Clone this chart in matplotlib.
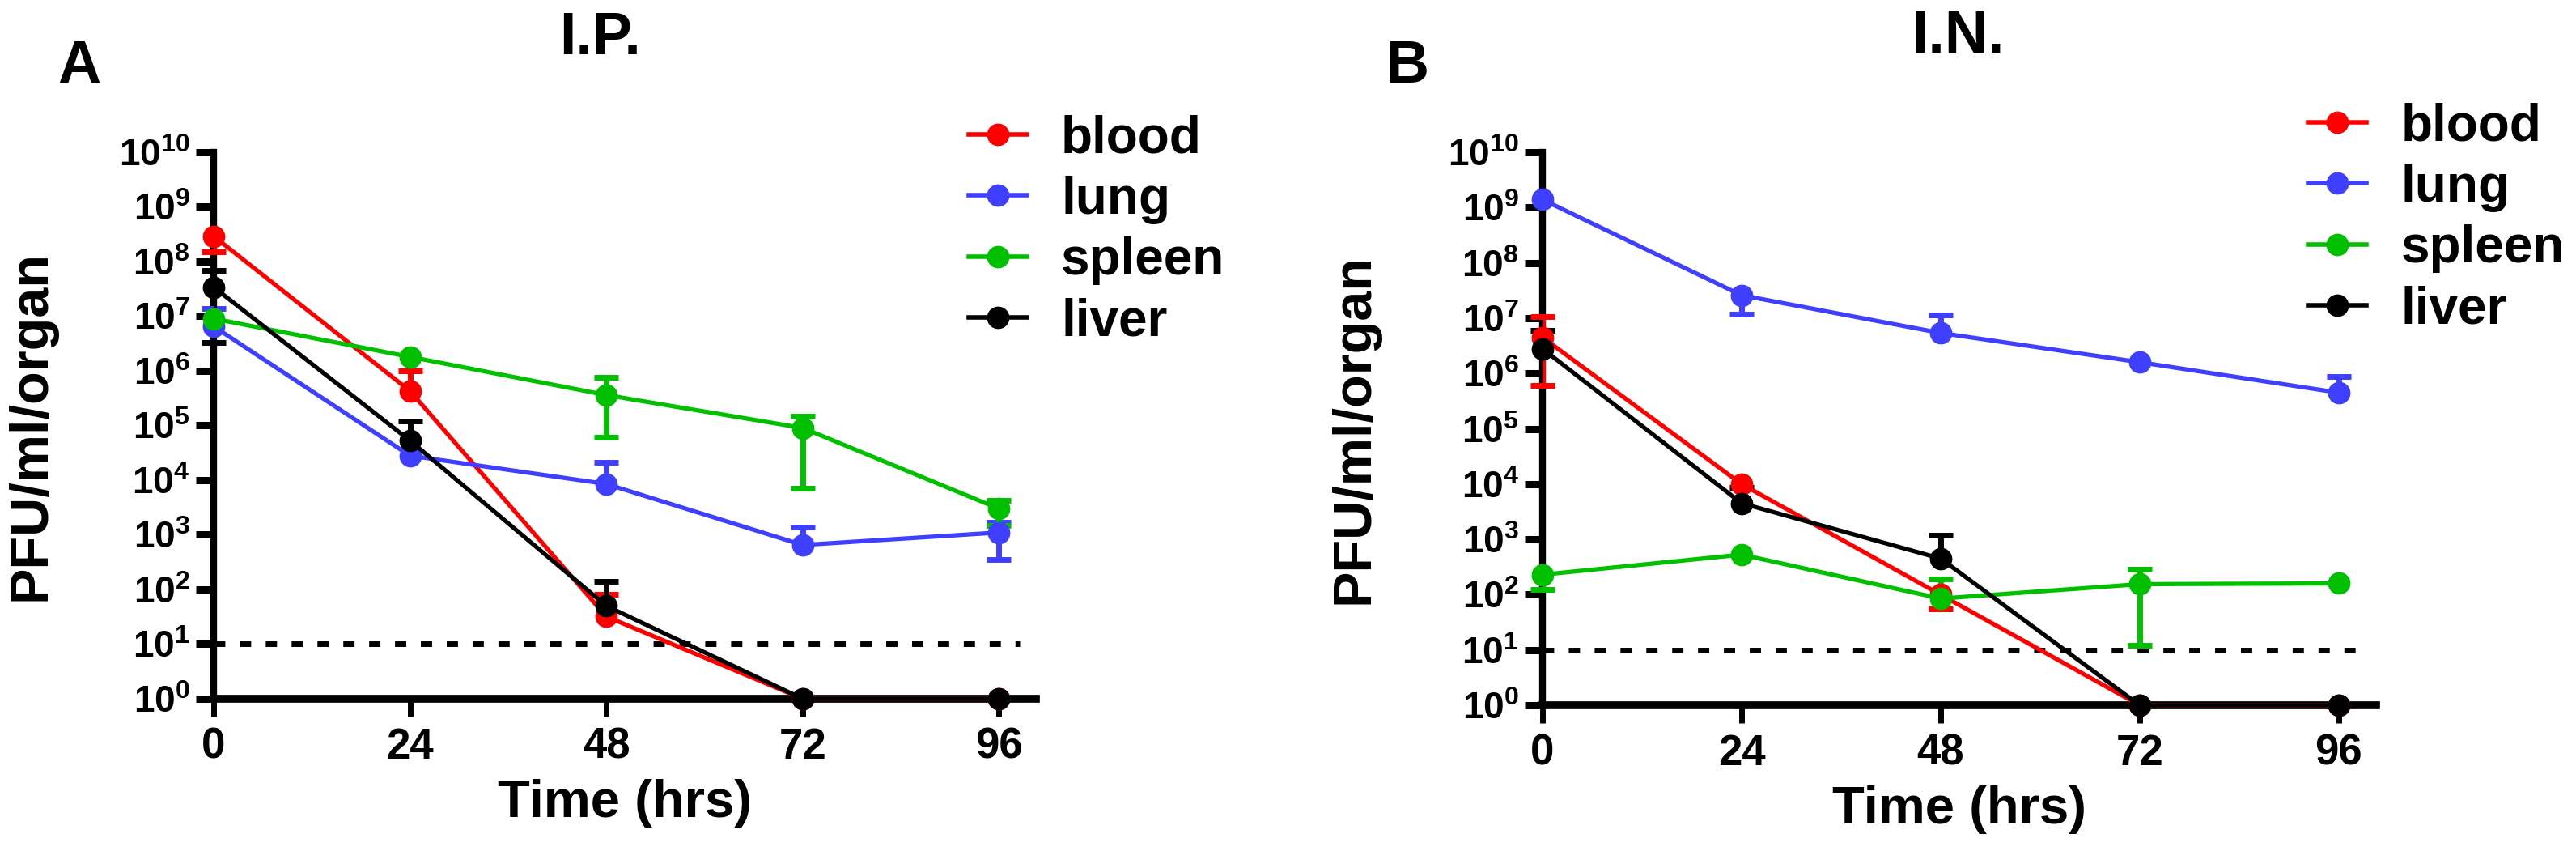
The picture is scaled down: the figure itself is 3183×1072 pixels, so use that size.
import numpy as np
import matplotlib
matplotlib.use("Agg")
import matplotlib.pyplot as plt
from matplotlib import font_manager
from matplotlib.lines import Line2D
from matplotlib.ticker import NullLocator

# pick a narrow face for the panel titles if we have one
names = {f.name for f in font_manager.fontManager.ttflist}
narrow = "Liberation Sans Narrow" if "Liberation Sans Narrow" in names else "Liberation Sans"

plt.rcParams["font.family"] = ["Liberation Sans", "DejaVu Sans"]
plt.rcParams["font.weight"] = "bold"
plt.rcParams["axes.labelweight"] = "bold"
plt.rcParams["mathtext.fontset"] = "custom"
plt.rcParams["mathtext.rm"] = "Liberation Sans:bold"
plt.rcParams["mathtext.it"] = "Liberation Sans:bold"
plt.rcParams["mathtext.bf"] = "Liberation Sans:bold"
plt.rcParams["mathtext.default"] = "rm"

# time points (hrs)
hours = [0, 24, 48, 72, 96]
organs = ["blood", "lung", "spleen", "liver"]
colors = ["#ff0000", "#3f3fff", "#00c000", "#000000"]
limit = 10  # detection limit, dashed line

# I.P. route: mean and error bar ends (nan = bar hidden)
ip_blood = [2.9e8, 4.3e5, 32, 1, 1]
ip_blood_lo = [1.5e8, np.nan, np.nan, np.nan, np.nan]
ip_blood_hi = [np.nan, 1.0e6, 80, np.nan, np.nan]
ip_lung = [6.5e6, 2.8e4, 8.5e3, 650, 1.1e3]
ip_lung_lo = [np.nan, np.nan, np.nan, np.nan, 350]
ip_lung_hi = [1.4e7, np.nan, 2.1e4, 1.4e3, 1.7e3]
ip_spleen = [9.0e6, 1.8e6, 3.6e5, 9.0e4, 3.0e3]
ip_spleen_lo = [np.nan, np.nan, 6.0e4, 7.0e3, 1.5e3]
ip_spleen_hi = [np.nan, np.nan, 7.6e5, 1.5e5, 4.3e3]
ip_liver = [3.4e7, 5.3e4, 50, 1, 1]
ip_liver_lo = [3.3e6, np.nan, np.nan, np.nan, np.nan]
ip_liver_hi = [6.8e7, 1.2e5, 140, np.nan, np.nan]

# I.N. route
in_blood = [4.5e6, 1.0e4, 100, 1, 1]
in_blood_lo = [6.0e5, np.nan, 55, np.nan, np.nan]
in_blood_hi = [1.07e7, np.nan, np.nan, np.nan, np.nan]
in_lung = [1.4e9, 2.6e7, 5.4e6, 1.6e6, 4.5e5]
in_lung_lo = [np.nan, 1.2e7, np.nan, np.nan, np.nan]
in_lung_hi = [np.nan, np.nan, 1.15e7, np.nan, 8.9e5]
in_spleen = [230, 530, 85, 155, 160]
in_spleen_lo = [125, np.nan, np.nan, 12, np.nan]
in_spleen_hi = [np.nan, np.nan, 190, 290, np.nan]
in_liver = [2.8e6, 4.5e3, 450, 1, 1]
in_liver_lo = [np.nan, np.nan, np.nan, np.nan, np.nan]
in_liver_hi = [6.0e6, 8.7e3, 1.2e3, np.nan, np.nan]

ip_data = [(ip_blood, ip_blood_lo, ip_blood_hi), (ip_lung, ip_lung_lo, ip_lung_hi),
           (ip_spleen, ip_spleen_lo, ip_spleen_hi), (ip_liver, ip_liver_lo, ip_liver_hi)]
in_data = [(in_blood, in_blood_lo, in_blood_hi), (in_lung, in_lung_lo, in_lung_hi),
           (in_spleen, in_spleen_lo, in_spleen_hi), (in_liver, in_liver_lo, in_liver_hi)]


def panel(ax, data):
    for name, col, (val, lo, hi) in zip(organs, colors, data):
        val = np.array(val, float)
        # one-sided bars: only draw the parts we can see
        lo = np.array(lo, float)
        hi = np.array(hi, float)
        for ends in (lo, hi):
            ok = ~np.isnan(ends)
            if ok.any():
                x = np.array(hours)[ok]
                ax.vlines(x, val[ok], ends[ok], color=col, lw=5, zorder=3)
                ax.plot(x, ends[ok], ls="none", marker="_", ms=22, mew=5, color=col,
                        clip_on=False, zorder=3)
        ax.plot(hours, val, color=col, lw=3.8, marker="o", ms=19, mec=col, mew=1,
                clip_on=False, zorder=4)
    ax.plot([0, 98.5], [limit, limit], color="black", lw=5, dashes=(2.0, 2.6), zorder=2)
    ax.set_yscale("log")
    ax.set_ylim(1, 1e10)
    ax.set_xlim(0, 100.5)
    ax.set_yticks([10.0 ** k for k in range(11)])
    ax.set_yticklabels(["$10^{%d}$" % k for k in range(11)])
    ax.yaxis.set_minor_locator(NullLocator())
    ax.set_xticks(hours)
    ax.spines["top"].set_visible(False)
    ax.spines["right"].set_visible(False)
    ax.spines["left"].set_linewidth(6)
    ax.spines["bottom"].set_linewidth(7)
    ax.tick_params(axis="y", length=16, width=6.5, labelsize=33, pad=5)
    ax.tick_params(axis="x", length=16, width=5, labelsize=38, pad=9)
    ax.set_xlabel("Time (hrs)", fontsize=47, labelpad=10)
    ax.set_ylabel("PFU/ml/organ", fontsize=48)
    handles = [Line2D([], [], color=c, lw=4, marker="o", ms=19, mec=c) for c in colors]
    return handles


fig = plt.figure(figsize=(31.83, 10.72), dpi=100)
ax1 = fig.add_axes([0.0829, 0.195, 0.3192, 0.6297])
ax2 = fig.add_axes([0.5988, 0.1875, 0.3236, 0.637])

h1 = panel(ax1, ip_data)
h2 = panel(ax2, in_data)
ax1.yaxis.set_label_coords(-0.191, 0.5)
ax2.yaxis.set_label_coords(-0.196, 0.5)

for ax, hs, x0, y0 in [(ax1, h1, 0.376, 0.868), (ax2, h2, 0.896, 0.882)]:
    ax.legend(hs, organs, loc="upper left", bbox_to_anchor=(x0, y0),
              bbox_transform=fig.transFigure, frameon=False, fontsize=46,
              handlelength=1.13, handletextpad=0.66, labelspacing=0.24,
              borderpad=0, borderaxespad=0)

fig.text(0.233, 0.9375, "I.P.", fontsize=53, family=narrow, ha="center", va="baseline")
fig.text(0.760, 0.939, "I.N.", fontsize=53, family=narrow, ha="center", va="baseline")
fig.text(0.0223, 0.905, "A", fontsize=53, ha="left", va="baseline")
fig.text(0.5379, 0.905, "B", fontsize=53, ha="left", va="baseline")

fig.savefig("out.png", dpi=100)
